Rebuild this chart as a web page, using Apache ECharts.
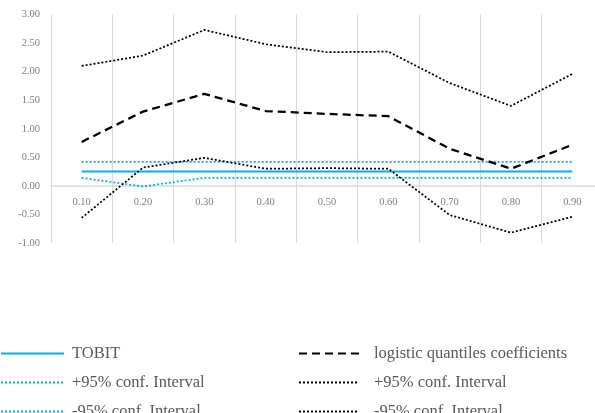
<!DOCTYPE html>
<html>
<head>
<meta charset="utf-8">
<script src="https://cdn.jsdelivr.net/npm/echarts@6/dist/echarts.min.js"></script>
<style>
  html, body { margin: 0; padding: 0; background: #fff; overflow: hidden; }
  #wrap { width: 595px; height: 413px; overflow: hidden; }
  /* the plot area runs past the right edge of the view, so the canvas is wider */
  #chart { width: 620px; height: 413px; }
</style>
</head>
<body>
<div id="wrap"><div id="chart"></div></div>
<script>
// Quantile levels on the category axis
const quantiles = ['0.10', '0.20', '0.30', '0.40', '0.50', '0.60', '0.70', '0.80', '0.90'];

// TOBIT estimate and its 95% band (flat across quantiles)
const tobit      = [0.25, 0.25, 0.25, 0.25, 0.25, 0.25, 0.25, 0.25, 0.25];
const tobitUpper = [0.42, 0.42, 0.42, 0.42, 0.42, 0.42, 0.42, 0.42, 0.42];
const tobitLower = [0.14, -0.01, 0.14, 0.14, 0.14, 0.14, 0.14, 0.14, 0.14];

// Logistic quantile regression coefficients and 95% band
const logistic      = [0.77, 1.30, 1.61, 1.31, 1.26, 1.22, 0.65, 0.30, 0.72];
const logisticUpper = [2.10, 2.28, 2.73, 2.48, 2.34, 2.35, 1.80, 1.40, 1.96];
const logisticLower = [-0.56, 0.32, 0.49, 0.30, 0.31, 0.30, -0.51, -0.82, -0.54];

// Value-axis tick settings
const yMin = -1, yMax = 3, yStep = 0.5;

const labels = {
  tobit: 'TOBIT',
  tobitUp: '+95% conf. Interval',
  tobitLo: '-95% conf. Interval',
  logit: 'logistic quantiles coefficients',
  logitUp: '+95% conf. Interval',
  logitLo: '-95% conf. Interval'
};

const FONT = '"Liberation Serif", "DejaVu Serif", serif';
const BLUE = '#00B0F0';

function lineSeries(key, data, color, width, type) {
  return {
    name: key,
    type: 'line',
    data: data,
    symbol: 'none',
    showSymbol: false,
    lineStyle: { color: color, width: width, type: type },
    itemStyle: { color: color },
    animation: false
  };
}

function legendColumn(left, iconWidth, textGap, keys) {
  return {
    orient: 'vertical',
    left: left,
    top: 345,
    height: 120,
    padding: 0,
    itemWidth: iconWidth,
    itemHeight: 14,
    itemGap: 12,
    itemStyle: { color: 'transparent', borderColor: 'transparent', borderWidth: 0 },
    textStyle: {
      fontFamily: FONT, fontSize: 16.5, color: '#595959',
      padding: [0, 0, 0, textGap]
    },
    formatter: function (n) { return labels[n]; },
    selectedMode: false,
    data: keys
  };
}

const chart = echarts.init(document.getElementById('chart'), null, { renderer: 'canvas' });
chart.setOption({
  backgroundColor: '#ffffff',
  animation: false,
  grid: { left: 51, right: 17, top: 14.5, bottom: 170, containLabel: false },
  legend: [
    legendColumn(0, 63, 3, ['tobit', 'tobitUp', 'tobitLo']),
    legendColumn(298, 60, 10, ['logit', 'logitUp', 'logitLo'])
  ],
  xAxis: {
    type: 'category',
    data: quantiles,
    boundaryGap: true,
    axisLine: { onZero: true, lineStyle: { color: '#d9d9d9', width: 1.5 } },
    axisTick: { show: false },
    axisLabel: { fontFamily: FONT, fontSize: 10.5, color: '#7f7f7f', margin: -46 },
    splitLine: { show: true, lineStyle: { color: '#d9d9d9', width: 1 } }
  },
  yAxis: {
    type: 'value',
    min: yMin,
    max: yMax,
    interval: yStep,
    axisLine: { show: false },
    axisTick: { show: false },
    splitLine: { show: false },
    axisLabel: {
      fontFamily: FONT, fontSize: 10.5, color: '#7f7f7f', margin: 11,
      formatter: function (v) { return v.toFixed(2); }
    }
  },
  series: [
    lineSeries('tobit', tobit, BLUE, 2, 'solid'),
    lineSeries('tobitUp', tobitUpper, BLUE, 1.75, [2, 2]),
    lineSeries('tobitLo', tobitLower, BLUE, 1.75, [2, 2]),
    lineSeries('logit', logistic, '#000000', 2.25, [8, 5]),
    lineSeries('logitUp', logisticUpper, '#000000', 1.75, [2, 2]),
    lineSeries('logitLo', logisticLower, '#000000', 1.75, [2, 2])
  ]
});
</script>
</body>
</html>
